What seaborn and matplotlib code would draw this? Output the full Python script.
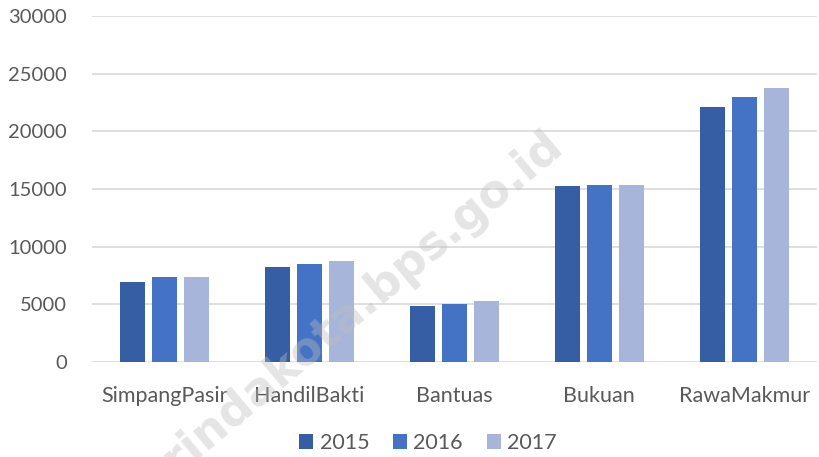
import pandas as pd
import matplotlib
matplotlib.use("Agg")
import matplotlib.pyplot as plt
import seaborn as sns

# data
villages = ["SimpangPasir", "HandilBakti", "Bantuas", "Bukuan", "RawaMakmur"]
years = ["2015", "2016", "2017"]
v2015 = [6950, 8210, 4860, 15260, 22110]
v2016 = [7400, 8470, 5060, 15320, 22950]
v2017 = [7390, 8760, 5290, 15350, 23790]
yticks = [0, 5000, 10000, 15000, 20000, 25000, 30000]

colors = ["#365EA5", "#4472C4", "#A7B5DB"]

df = pd.DataFrame({
    "desa": villages * 3,
    "tahun": [y for y in years for _ in villages],
    "nilai": v2015 + v2016 + v2017,
})

sns.set_theme(style="white")
plt.rcParams["font.family"] = ["Lato", "DejaVu Sans"]

fig = plt.figure(figsize=(8.2, 4.57), dpi=100)
ax = fig.add_axes([0.112, 0.208, 0.884, 0.757])

sns.barplot(data=df, x="desa", y="nilai", hue="tahun", palette=colors,
            saturation=1, width=0.66, gap=0.22, linewidth=0, ax=ax, legend=True)

ax.set_ylim(0, 30000)
ax.set_xlim(-0.5, 4.5)
ax.set_yticks(yticks)
ax.set_yticklabels([str(t) for t in yticks])
ax.yaxis.grid(True, color="#D9D9D9", linewidth=1.2)
ax.set_axisbelow(True)
for s in ax.spines.values():
    s.set_visible(False)
ax.tick_params(axis="both", length=0, labelcolor="#595959")
ax.tick_params(axis="y", pad=18, labelsize=14.5)
ax.tick_params(axis="x", pad=17, labelsize=15.5)
ax.set_xlabel("")
ax.set_ylabel("")

handles, labels = ax.get_legend_handles_labels()
ax.get_legend().remove()
fig.legend(handles, labels, loc="center", bbox_to_anchor=(428 / 820, 1 - 443 / 457),
           ncol=3, frameon=False, fontsize=15.5, labelcolor="#595959",
           handlelength=0.65, handleheight=0.65, handletextpad=0.3, columnspacing=1.1)

# watermark
fig.text(557 / 820, 1 - 140 / 457, "samarindakota.bps.go.id", rotation=40,
         rotation_mode="anchor", ha="right", va="center", fontsize=33,
         fontweight="bold", color="#BEBEBE", alpha=0.4,
         family=["DejaVu Sans"])

fig.savefig("out.png", dpi=100)
